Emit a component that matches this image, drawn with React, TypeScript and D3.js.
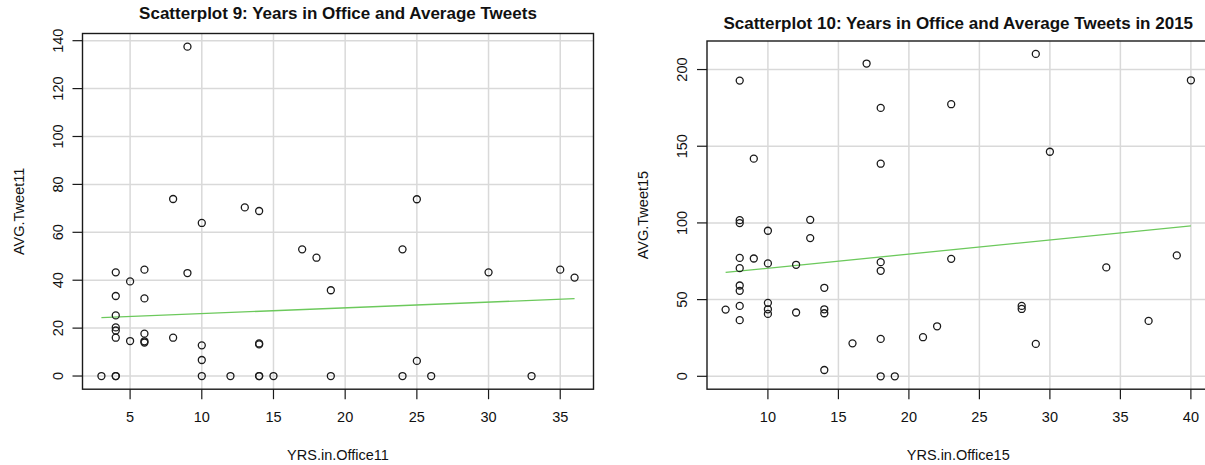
import { useEffect, useRef } from 'react';
import * as d3 from 'd3';

// Scatterplot 9 (2011)
const yrs11 = [3, 4, 4, 4, 4, 4, 4, 4, 4, 5, 5, 6, 6, 6, 6, 6, 8, 8, 9, 9, 10, 10, 10, 10, 12, 13, 14, 14, 14, 14, 14, 15, 17, 18, 19, 19, 24, 24, 25, 25, 26, 30, 33, 35, 36];
const avg11 = [0, 0, 0, 16.0, 19.0, 20.3, 25.3, 33.4, 43.3, 14.6, 39.5, 14.0, 14.5, 17.7, 32.4, 44.4, 16.0, 73.9, 43.0, 137.5, 0, 6.7, 12.8, 63.9, 0, 70.4, 0, 0, 13.2, 13.6, 68.9, 0, 52.9, 49.4, 0, 35.8, 0, 52.9, 6.3, 73.8, 0, 43.3, 0, 44.4, 41.1];
const fit11X = [3, 36];
const fit11Y = [24.4, 32.3];
const xTicks11 = [5, 10, 15, 20, 25, 30, 35];
const yTicks11 = [0, 20, 40, 60, 80, 100, 120, 140];

// Scatterplot 10 (2015)
const yrs15 = [7, 8, 8, 8, 8, 8, 8, 8, 8, 8, 9, 9, 10, 10, 10, 10, 10, 12, 12, 13, 13, 14, 14, 14, 14, 16, 17, 18, 18, 18, 18, 18, 18, 19, 21, 22, 23, 23, 28, 28, 29, 29, 30, 34, 37, 39, 40];
const avg15 = [43.5, 36.6, 45.9, 55.7, 59.2, 70.5, 77.2, 99.9, 101.8, 192.8, 76.8, 141.9, 40.7, 43.7, 47.9, 73.6, 94.9, 41.6, 72.7, 90.1, 102.0, 4.1, 41.1, 43.7, 57.7, 21.5, 203.9, 0, 24.4, 68.8, 74.4, 138.6, 175.0, 0, 25.5, 32.6, 76.6, 177.4, 43.9, 45.9, 21.1, 210.2, 146.4, 71.0, 36.1, 78.8, 193.0];
const fit15X = [7, 40];
const fit15Y = [67.7, 98.1];
const xTicks15 = [10, 15, 20, 25, 30, 35, 40];
const yTicks15 = [0, 50, 100, 150, 200];

const FONT = '"Liberation Sans", Arial, Helvetica, sans-serif';

// R style padding: 4% on each side of the data range
const padded = (vals) => {
  const [lo, hi] = d3.extent(vals);
  const p = (hi - lo) * 0.04;
  return [lo - p, hi + p];
};

function drawPlot(root, o) {
  const { box, xs, ys, fx, fy, xTicks, yTicks, title, titleY, xLabel, yLabel } = o;

  const x = d3.scaleLinear().domain(padded(xs)).range([box.left, box.right]);
  const y = d3.scaleLinear().domain(padded(ys)).range([box.bottom, box.top]);

  const g = root.append('g');

  // grid
  g.append('g')
    .selectAll('line')
    .data(xTicks)
    .enter()
    .append('line')
    .attr('x1', d => x(d))
    .attr('x2', d => x(d))
    .attr('y1', box.top)
    .attr('y2', box.bottom)
    .attr('stroke', '#d9d9d9')
    .attr('stroke-width', 1.5);

  g.append('g')
    .selectAll('line')
    .data(yTicks)
    .enter()
    .append('line')
    .attr('x1', box.left)
    .attr('x2', box.right)
    .attr('y1', d => y(d))
    .attr('y2', d => y(d))
    .attr('stroke', '#d9d9d9')
    .attr('stroke-width', 1.5);

  // fitted line
  g.append('path')
    .datum(fx.map((v, i) => [v, fy[i]]))
    .attr('fill', 'none')
    .attr('stroke', '#6cc95c')
    .attr('stroke-width', 1.3)
    .attr('d', d3.line().x(d => x(d[0])).y(d => y(d[1])));

  // points
  g.append('g')
    .selectAll('circle')
    .data(xs.map((v, i) => [v, ys[i]]))
    .enter()
    .append('circle')
    .attr('cx', d => x(d[0]))
    .attr('cy', d => y(d[1]))
    .attr('r', 3.5)
    .attr('fill', 'none')
    .attr('stroke', '#1a1a1a')
    .attr('stroke-width', 1.3);

  // box
  g.append('rect')
    .attr('x', box.left)
    .attr('y', box.top)
    .attr('width', box.right - box.left)
    .attr('height', box.bottom - box.top)
    .attr('fill', 'none')
    .attr('stroke', '#1a1a1a')
    .attr('stroke-width', 1.4);

  // x axis
  const xa = g.append('g');
  xa.selectAll('line')
    .data(xTicks)
    .enter()
    .append('line')
    .attr('x1', d => x(d))
    .attr('x2', d => x(d))
    .attr('y1', box.bottom)
    .attr('y2', box.bottom + 10)
    .attr('stroke', '#1a1a1a')
    .attr('stroke-width', 1.2);
  xa.selectAll('text')
    .data(xTicks)
    .enter()
    .append('text')
    .attr('x', d => x(d))
    .attr('y', 422)
    .attr('text-anchor', 'middle')
    .attr('font-size', 14.5)
    .text(d => d);

  // y axis
  const ya = g.append('g');
  ya.selectAll('line')
    .data(yTicks)
    .enter()
    .append('line')
    .attr('x1', box.left - 10)
    .attr('x2', box.left)
    .attr('y1', d => y(d))
    .attr('y2', d => y(d))
    .attr('stroke', '#1a1a1a')
    .attr('stroke-width', 1.2);
  ya.selectAll('text')
    .data(yTicks)
    .enter()
    .append('text')
    .attr('transform', d => `translate(${box.left - 25},${y(d)}) rotate(-90)`)
    .attr('dy', '0.35em')
    .attr('text-anchor', 'middle')
    .attr('font-size', 14.5)
    .text(d => d);

  // labels
  const cx = (box.left + box.right) / 2;
  g.append('text')
    .attr('x', cx)
    .attr('y', titleY)
    .attr('text-anchor', 'middle')
    .attr('font-size', 17)
    .attr('font-weight', 'bold')
    .text(title);

  g.append('text')
    .attr('x', cx)
    .attr('y', 460)
    .attr('text-anchor', 'middle')
    .attr('font-size', 14.5)
    .text(xLabel);

  g.append('text')
    .attr('transform', `translate(${box.left - 64},${(box.top + box.bottom) / 2}) rotate(-90)`)
    .attr('dy', '0.35em')
    .attr('text-anchor', 'middle')
    .attr('font-size', 14.5)
    .text(yLabel);
}

export default function App() {
  const svgRef = useRef(null);

  useEffect(() => {
    const svg = d3.select(svgRef.current);
    svg.selectAll('*').remove();

    svg.append('rect').attr('width', 1205).attr('height', 465).attr('fill', '#fff');

    const root = svg.append('g').attr('font-family', FONT).attr('fill', '#111');

    drawPlot(root, {
      box: { left: 82.5, right: 593.5, top: 33.5, bottom: 389.2 },
      xs: yrs11,
      ys: avg11,
      fx: fit11X,
      fy: fit11Y,
      xTicks: xTicks11,
      yTicks: yTicks11,
      title: 'Scatterplot 9: Years in Office and Average Tweets',
      titleY: 19,
      xLabel: 'YRS.in.Office11',
      yLabel: 'AVG.Tweet11',
    });

    drawPlot(root, {
      box: { left: 707, right: 1209.5, top: 41, bottom: 389.2 },
      xs: yrs15,
      ys: avg15,
      fx: fit15X,
      fy: fit15Y,
      xTicks: xTicks15,
      yTicks: yTicks15,
      title: 'Scatterplot 10: Years in Office and Average Tweets in 2015',
      titleY: 29,
      xLabel: 'YRS.in.Office15',
      yLabel: 'AVG.Tweet15',
    });
  }, []);

  return (
    <svg
      ref={svgRef}
      width={1205}
      height={465}
      style={{ position: 'absolute', left: 0, top: 0, display: 'block' }}
    />
  );
}
